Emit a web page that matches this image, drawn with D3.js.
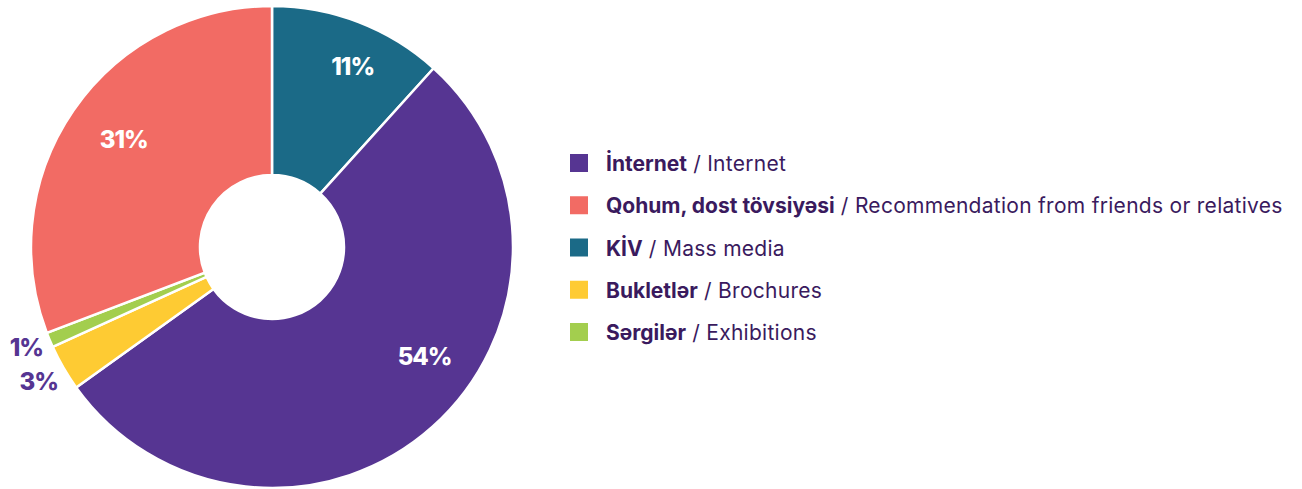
<!DOCTYPE html>
<html>
<head>
<meta charset="utf-8">
<script src="https://cdn.jsdelivr.net/npm/d3@7"></script>
<style>
  html, body { margin: 0; padding: 0; background: #ffffff; }
  svg { display: block; }
</style>
</head>
<body>
<svg id="chart" width="1302" height="489"></svg>
<script>
// ---- data (pie order, clockwise from 12 o'clock) ----
const sliceKeys   = ["kiv", "internet", "bukletler", "sergiler", "qohum"];
const sliceValues = [11.7, 53.4, 3.1, 1.0, 30.8];
const sliceLabels = ["11%", "54%", "3%", "1%", "31%"];

// ---- legend ----
const legendKeys    = ["internet", "qohum", "kiv", "bukletler", "sergiler"];
const legendBold    = ["İnternet", "Qohum, dost tövsiyəsi", "KİV", "Bukletlər", "Sərgilər"];
const legendRegular = ["Internet", "Recommendation from friends or relatives", "Mass media", "Brochures", "Exhibitions"];

const colors = {
  internet:  "#563592",
  qohum:     "#F26B64",
  kiv:       "#1B6A87",
  bukletler: "#FECB33",
  sergiler:  "#A3CE4E"
};

const svg = d3.select("#chart");
const FONT = "Inter, 'Open Sans', sans-serif";
const cx = 272, cy = 247, rOuter = 241, rInner = 72;

const pieData = d3.pie().sort(null).value(d => d.value)(
  sliceKeys.map((k, i) => ({ key: k, value: sliceValues[i], label: sliceLabels[i] }))
);
const arc = d3.arc().innerRadius(rInner).outerRadius(rOuter);

const g = svg.append("g").attr("transform", `translate(${cx},${cy})`);
g.selectAll("path.slice")
  .data(pieData)
  .join("path")
  .attr("class", "slice")
  .attr("d", arc)
  .attr("fill", d => colors[d.data.key])
  .attr("stroke", "#ffffff")
  .attr("stroke-width", 2.5)
  .attr("stroke-linejoin", "miter");

// label placement (layout only)
const placement = {
  kiv:       { r: 198, da: 3,   inside: true },
  internet:  { r: 188, da: -12.5, inside: true },
  qohum:     { r: 183, da: 1.3, inside: true },
  bukletler: { r: 0, outside: true, x: 58, y: 381 },
  sergiler:  { r: 0, outside: true, x: 43, y: 347 }
};

pieData.forEach(d => {
  const p = placement[d.data.key];
  if (p.inside) {
    const a = (d.startAngle + d.endAngle) / 2 + p.da * Math.PI / 180;
    const x = p.r * Math.sin(a), y = -p.r * Math.cos(a);
    g.append("text")
      .attr("x", x).attr("y", y)
      .attr("text-anchor", "middle")
      .attr("dominant-baseline", "central")
      .attr("fill", "#ffffff")
      .attr("font-family", FONT)
      .attr("font-weight", 800)
      .attr("font-size", 24)
      .attr("letter-spacing", -1)
      .text(d.data.label);
  } else {
    svg.append("text")
      .attr("x", p.x).attr("y", p.y)
      .attr("text-anchor", "end")
      .attr("dominant-baseline", "central")
      .attr("fill", "#563592")
      .attr("font-family", FONT)
      .attr("font-weight", 800)
      .attr("font-size", 24)
      .attr("letter-spacing", -1)
      .text(d.data.label);
  }
});

// legend
const lg = svg.append("g");
const rowY = d3.scalePoint().domain(legendKeys).range([163, 332]);
legendKeys.forEach((k, i) => {
  const y = rowY(k);
  lg.append("rect")
    .attr("x", 570).attr("y", y - 9)
    .attr("width", 18).attr("height", 18)
    .attr("fill", colors[k]);
  const t = lg.append("text")
    .attr("x", 606).attr("y", y)
    .attr("dominant-baseline", "central")
    .attr("fill", "#3A1A5E")
    .attr("font-family", FONT)
    .attr("font-size", 21);
  t.append("tspan").attr("font-weight", 700).text(legendBold[i]);
  t.append("tspan").attr("font-weight", 400).attr("letter-spacing", 0.28).text(" / " + legendRegular[i]);
});
</script>
</body>
</html>
